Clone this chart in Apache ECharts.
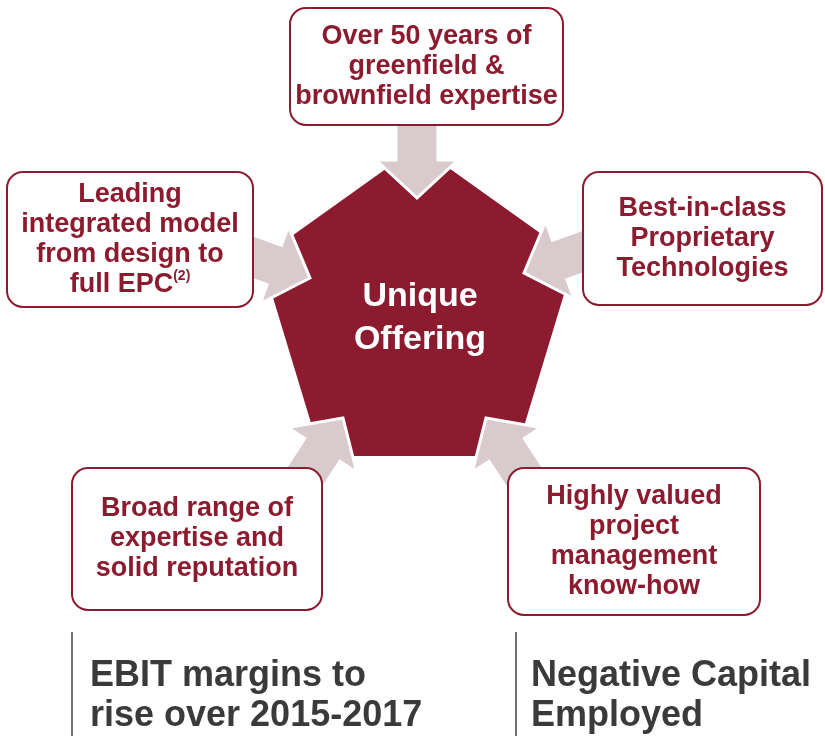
<!DOCTYPE html>
<html lang="en">
<head>
  <meta charset="UTF-8">
  <title>Unique Offering</title>
  <script src="https://cdn.jsdelivr.net/npm/echarts@6/dist/echarts.min.js"></script>
</head>
<body style="margin:0;background:#fff;">
  <div id="main" style="width:825px;height:736px;"></div>
  <script>
    // texts: top, upper-right, lower-right, lower-left, upper-left
    let boxTexts = [
      'Over 50 years of\ngreenfield &\nbrownfield expertise',
      'Best-in-class\nProprietary\nTechnologies',
      'Highly valued\nproject\nmanagement\nknow-how',
      'Broad range of\nexpertise and\nsolid reputation',
      'Leading\nintegrated model\nfrom design to\nfull EPC{sup|(2)}'
    ];
    let centerText = 'Unique\nOffering';
    let footTexts = ['EBIT margins to\nrise over 2015-2017', 'Negative Capital\nEmployed'];

    // layout
    let boxRects = [
      [290, 8, 273, 117],
      [583, 172, 239, 133],
      [508, 468, 252, 147],
      [72, 468, 250, 142],
      [7, 172, 246, 135]
    ];
    let arrowTips = [[417, 198], [524, 273], [486, 418], [343, 418], [310, 278]];
    let arrowAngles = [90, 160, 237, 303, 20];
    let pentagon = [[418, 146], [575, 258], [515, 456], [321, 456], [261, 258]];
    let footX = [72, 516];

    let red = '#8c1b2f';
    let grey = '#d9cbcd';
    let font = '"Liberation Sans", Arial, sans-serif';

    function arrowPoints(tip, angle) {
      let headLen = 38, headW = 82, shaftW = 42, len = 78;
      let a = angle * Math.PI / 180;
      let dx = Math.cos(a), dy = Math.sin(a);
      let nx = -dy, ny = dx;
      let bx = tip[0] - dx * headLen, by = tip[1] - dy * headLen;
      let tx = tip[0] - dx * len, ty = tip[1] - dy * len;
      return [
        tip,
        [bx + nx * headW / 2, by + ny * headW / 2],
        [bx + nx * shaftW / 2, by + ny * shaftW / 2],
        [tx + nx * shaftW / 2, ty + ny * shaftW / 2],
        [tx - nx * shaftW / 2, ty - ny * shaftW / 2],
        [bx - nx * shaftW / 2, by - ny * shaftW / 2],
        [bx - nx * headW / 2, by - ny * headW / 2]
      ];
    }

    let elements = [];
    elements.push({
      type: 'polygon',
      shape: { points: pentagon },
      style: { fill: red },
      z: 1
    });
    arrowTips.forEach((tip, i) => {
      elements.push({
        type: 'polygon',
        shape: { points: arrowPoints(tip, arrowAngles[i]) },
        style: { fill: grey, stroke: '#fff', lineWidth: 3, lineJoin: 'miter' },
        z: 2
      });
    });
    boxRects.forEach((r, i) => {
      elements.push({
        type: 'rect',
        shape: { x: r[0], y: r[1], width: r[2], height: r[3], r: 16 },
        style: { fill: '#fff', stroke: red, lineWidth: 2 },
        z: 3
      });
      elements.push({
        type: 'text',
        x: r[0] + r[2] / 2,
        y: r[1] + r[3] / 2,
        style: {
          text: boxTexts[i],
          fill: red,
          font: 'bold 27px ' + font,
          align: 'center',
          verticalAlign: 'middle',
          lineHeight: 30,
          rich: {
            sup: {
              fill: red,
              fontSize: 14,
              fontWeight: 'bold',
              fontFamily: font,
              lineHeight: 16,
              verticalAlign: 'top'
            }
          }
        },
        z: 4
      });
    });
    elements.push({
      type: 'text',
      x: 420,
      y: 318,
      style: {
        text: centerText,
        fill: '#fff',
        font: 'bold 34px ' + font,
        align: 'center',
        verticalAlign: 'middle',
        lineHeight: 43
      },
      z: 4
    });
    footTexts.forEach((t, i) => {
      elements.push({
        type: 'line',
        shape: { x1: footX[i], y1: 632, x2: footX[i], y2: 736 },
        style: { stroke: '#6f6f6f', lineWidth: 2 },
        z: 1
      });
      elements.push({
        type: 'text',
        x: footX[i] + (i === 0 ? 18 : 15),
        y: 696,
        style: {
          text: t,
          fill: '#3a3a3a',
          font: 'bold 36px ' + font,
          align: 'left',
          verticalAlign: 'middle',
          lineHeight: 40
        },
        z: 4
      });
    });

    let chart = echarts.init(document.getElementById('main'));
    chart.setOption({
      animation: false,
      backgroundColor: '#fff',
      graphic: { elements: elements }
    });
  </script>
</body>
</html>
